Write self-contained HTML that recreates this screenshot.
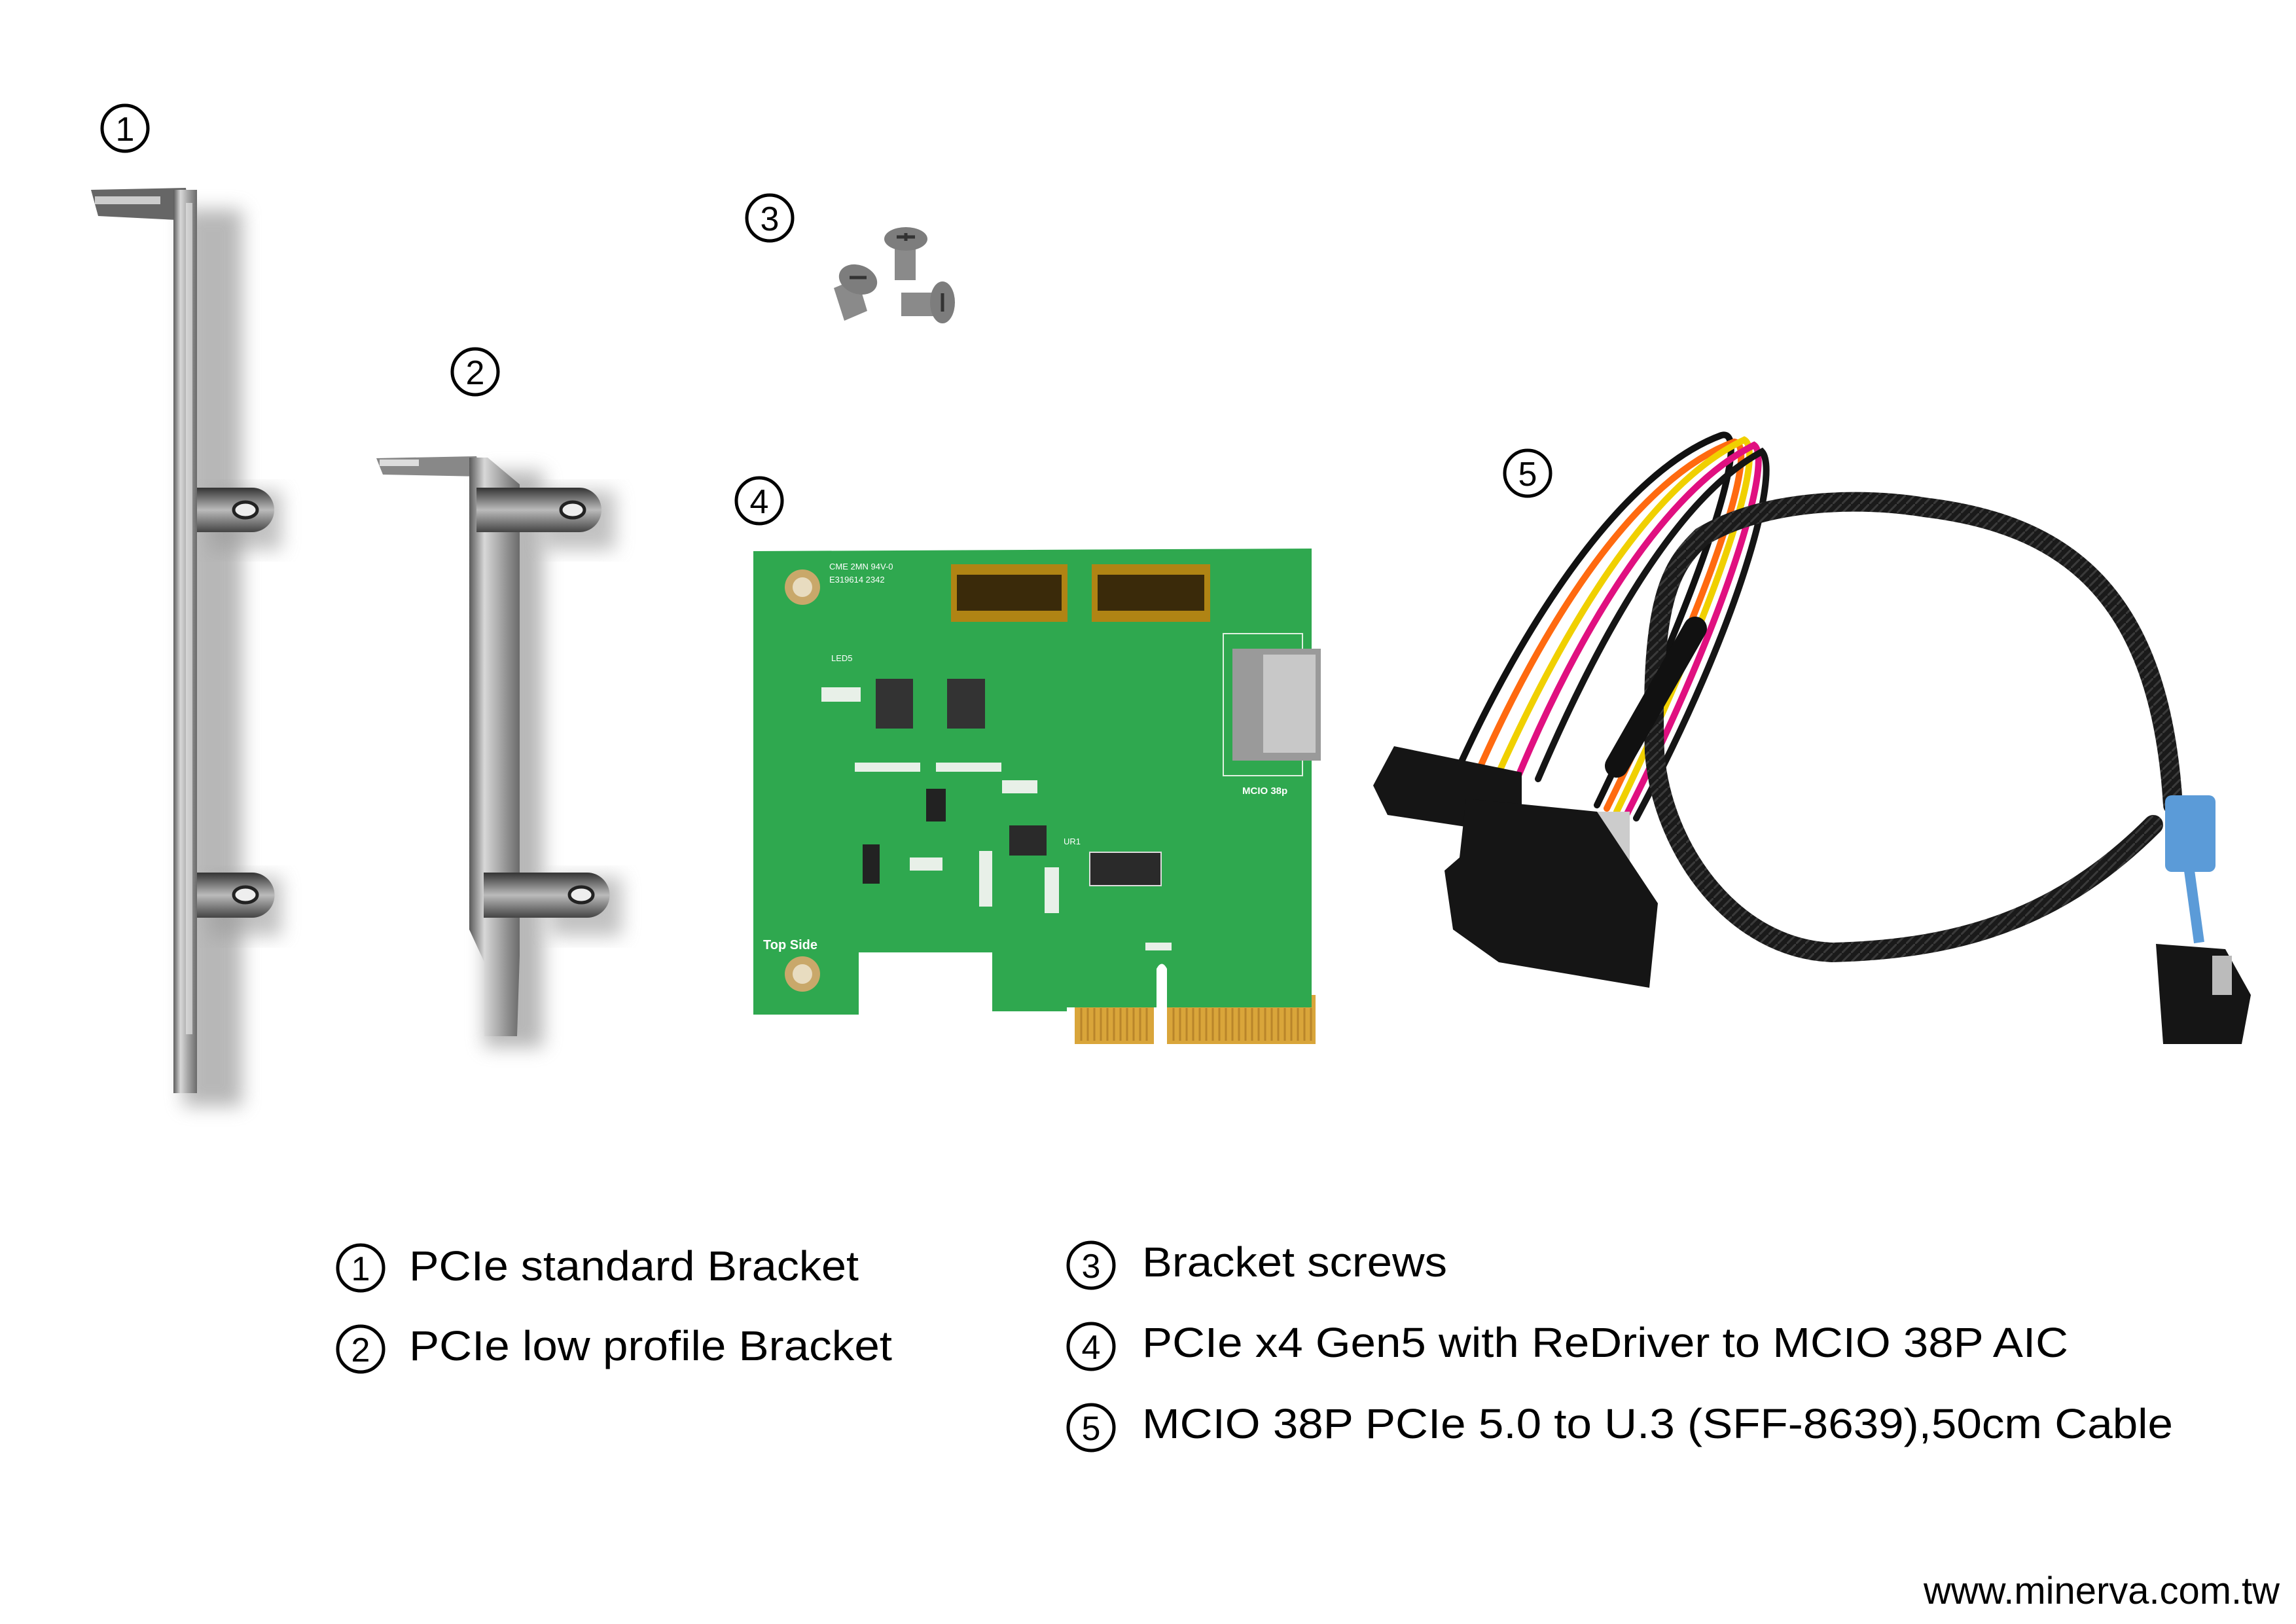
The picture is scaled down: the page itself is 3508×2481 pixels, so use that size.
<!DOCTYPE html>
<html><head><meta charset="utf-8"><style>
html,body{margin:0;padding:0;background:#fff}
svg{display:block}
text{font-family:"Liberation Sans",Arial,sans-serif}
</style></head><body>
<svg width="3508" height="2481" viewBox="0 0 3508 2481" xmlns="http://www.w3.org/2000/svg">
<defs>
<linearGradient id="metal" x1="0" x2="1" y1="0" y2="0">
<stop offset="0" stop-color="#5a5a5a"/><stop offset="0.3" stop-color="#d8d8d8"/><stop offset="0.6" stop-color="#a8a8a8"/><stop offset="1" stop-color="#6a6a6a"/></linearGradient>
<linearGradient id="ear" x1="0" x2="0" y1="0" y2="1">
<stop offset="0" stop-color="#333"/><stop offset="0.5" stop-color="#bbb"/><stop offset="1" stop-color="#444"/></linearGradient>
<filter id="sh" x="-50%" y="-20%" width="200%" height="140%"><feGaussianBlur stdDeviation="14"/></filter>
<pattern id="braid" width="14" height="14" patternUnits="userSpaceOnUse"><rect width="14" height="14" fill="#1a1a1a"/><path d="M0 14L14 0" stroke="#3a3a3a" stroke-width="3"/></pattern>
</defs>
<rect width="3508" height="2481" fill="#fff"/>

<g fill="none" stroke="#000" stroke-width="5">
<circle cx="191" cy="196" r="35"/><circle cx="726" cy="568" r="35"/><circle cx="1176" cy="333" r="35"/><circle cx="1160" cy="765" r="35"/><circle cx="2334" cy="723" r="35"/>
</g>
<g font-size="52" text-anchor="middle">
<text x="191" y="215">1</text><text x="726" y="587">2</text><text x="1176" y="352">3</text><text x="1160" y="784">4</text><text x="2334" y="742">5</text>
</g>

<!-- bracket 1 -->
<g>
<rect x="280" y="320" width="90" height="1370" fill="#888" opacity="0.6" filter="url(#sh)"/>
<rect x="320" y="750" width="110" height="90" fill="#999" opacity="0.6" filter="url(#sh)"/>
<rect x="320" y="1340" width="110" height="90" fill="#999" opacity="0.6" filter="url(#sh)"/>
<path d="M139 290 L284 287 L290 337 L150 330 Z" fill="#666"/>
<rect x="145" y="300" width="100" height="12" fill="#ccc"/>
<rect x="265" y="290" width="36" height="1380" fill="url(#metal)"/>
<rect x="284" y="310" width="10" height="1270" fill="#eee" opacity="0.6"/>
<path d="M301 745 L385 745 A34 34 0 0 1 385 813 L301 813 Z" fill="url(#ear)"/>
<ellipse cx="375" cy="779" rx="18" ry="12" fill="#eee" stroke="#222" stroke-width="5"/>
<path d="M301 1333 L385 1333 A34 34 0 0 1 385 1402 L301 1402 Z" fill="url(#ear)"/>
<ellipse cx="375" cy="1367" rx="18" ry="12" fill="#eee" stroke="#222" stroke-width="5"/>
</g>

<!-- bracket 2 -->
<g>
<rect x="740" y="720" width="90" height="880" fill="#888" opacity="0.6" filter="url(#sh)"/>
<rect x="830" y="750" width="110" height="90" fill="#999" opacity="0.6" filter="url(#sh)"/>
<rect x="840" y="1340" width="110" height="90" fill="#999" opacity="0.6" filter="url(#sh)"/>
<path d="M575 700 L728 697 L735 728 L585 725 Z" fill="#888"/>
<rect x="580" y="702" width="60" height="10" fill="#ddd"/>
<path d="M717 699 L745 699 L794 740 L794 1460 L790 1583 L740 1583 L740 1470 L717 1420 Z" fill="url(#metal)"/>
<path d="M728 745 L885 745 A34 34 0 0 1 885 813 L728 813 Z" fill="url(#ear)"/>
<ellipse cx="875" cy="779" rx="18" ry="12" fill="#eee" stroke="#222" stroke-width="5"/>
<path d="M739 1333 L897 1333 A34 34 0 0 1 897 1402 L739 1402 Z" fill="url(#ear)"/>
<ellipse cx="888" cy="1367" rx="18" ry="12" fill="#eee" stroke="#222" stroke-width="5"/>
</g>

<!-- screws -->
<g>
<rect x="1367" y="380" width="32" height="48" fill="#8a8a8a"/>
<ellipse cx="1384" cy="365" rx="33" ry="18" fill="#7d7d7d"/>
<path d="M1370 362h28M1384 356v12" stroke="#333" stroke-width="5"/>
<path d="M1274 440 L1310 425 L1325 475 L1290 490 Z" fill="#8a8a8a"/>
<ellipse cx="1311" cy="427" rx="30" ry="22" fill="#7d7d7d" transform="rotate(20 1311 427)"/>
<path d="M1298 424h26" stroke="#333" stroke-width="5"/>
<rect x="1377" y="447" width="50" height="36" fill="#8a8a8a"/>
<ellipse cx="1440" cy="462" rx="19" ry="32" fill="#7d7d7d"/>
<path d="M1440 448v28" stroke="#333" stroke-width="5"/>
</g>

<!-- PCB -->
<g>
<rect x="1642" y="1520" width="121" height="75" fill="#d9a53a"/>
<rect x="1783" y="1520" width="227" height="75" fill="#d9a53a"/>
<g stroke="#b9852a" stroke-width="3">
<path d="M1652 1540v50M1662 1540v50M1672 1540v50M1682 1540v50M1692 1540v50M1702 1540v50M1712 1540v50M1722 1540v50M1732 1540v50M1742 1540v50M1752 1540v50"/>
<path d="M1793 1540v50M1803 1540v50M1813 1540v50M1823 1540v50M1833 1540v50M1843 1540v50M1853 1540v50M1863 1540v50M1873 1540v50M1883 1540v50M1893 1540v50M1903 1540v50M1913 1540v50M1923 1540v50M1933 1540v50M1943 1540v50M1953 1540v50M1963 1540v50M1973 1540v50M1983 1540v50M1993 1540v50M2003 1540v50"/>
</g>
<path d="M1151 842 L2004 838 L2004 1539 L1783 1539 L1783 1480 Q1775 1465 1767 1480 L1767 1539 L1642 1539 L1630 1539 L1630 1545 L1516 1545 L1516 1455 L1312 1455 L1312 1550 L1151 1550 Z" fill="#2fa84f"/>
<circle cx="1226" cy="897" r="27" fill="#c9a86a"/><circle cx="1226" cy="897" r="15" fill="#e8dcc0"/>
<circle cx="1226" cy="1488" r="27" fill="#c9a86a"/><circle cx="1226" cy="1488" r="15" fill="#e8dcc0"/>
<rect x="1453" y="862" width="178" height="88" fill="#b08414"/><rect x="1462" y="878" width="160" height="55" fill="#3a2a0a"/>
<rect x="1668" y="862" width="181" height="88" fill="#b08414"/><rect x="1677" y="878" width="163" height="55" fill="#3a2a0a"/>
<rect x="1869" y="968" width="121" height="217" fill="none" stroke="#e0f0e0" stroke-width="2"/>
<rect x="1883" y="991" width="135" height="171" fill="#9a9a9a"/>
<rect x="1930" y="1000" width="80" height="150" fill="#c8c8c8"/>
<rect x="1338" y="1037" width="57" height="76" fill="#333"/>
<rect x="1447" y="1037" width="58" height="76" fill="#333"/>
<rect x="1665" y="1302" width="109" height="51" fill="#2a2a2a" stroke="#ddd" stroke-width="2"/>
<rect x="1542" y="1261" width="57" height="46" fill="#2a2a2a"/>
<rect x="1415" y="1205" width="30" height="50" fill="#222"/>
<rect x="1318" y="1290" width="26" height="60" fill="#222"/>
<g fill="#e8f0e8">
<rect x="1306" y="1165" width="100" height="14"/><rect x="1430" y="1165" width="100" height="14"/>
<rect x="1531" y="1192" width="54" height="20"/><rect x="1496" y="1300" width="20" height="85"/>
<rect x="1596" y="1325" width="22" height="70"/><rect x="1750" y="1440" width="40" height="12"/>
<rect x="1390" y="1310" width="50" height="20"/><rect x="1255" y="1050" width="60" height="22"/>
</g>
<g fill="#fff" font-size="13">
<text x="1267" y="870">CME 2MN 94V-0</text><text x="1267" y="890">E319614 2342</text>
<text x="1625" y="1290">UR1</text><text x="1270" y="1010">LED5</text>
</g>
<text x="1166" y="1450" fill="#fff" font-size="20" font-weight="bold">Top Side</text>
<text x="1898" y="1213" fill="#fff" font-size="15" font-weight="bold">MCIO 38p</text>
</g>

<!-- cable -->
<g fill="none" stroke-linecap="round">
<path d="M2230 1170 C2330 950 2480 720 2630 665 C2680 650 2600 900 2440 1230" stroke="#111" stroke-width="10"/>
<path d="M2260 1175 C2360 950 2500 730 2650 675 C2690 680 2610 920 2455 1235" stroke="#ff6a10" stroke-width="10"/>
<path d="M2290 1180 C2390 960 2520 740 2665 672 C2700 690 2620 930 2470 1240" stroke="#f0d000" stroke-width="10"/>
<path d="M2320 1185 C2410 970 2540 750 2680 680 C2710 700 2640 940 2485 1245" stroke="#e01080" stroke-width="10"/>
<path d="M2350 1190 C2440 980 2560 760 2692 690 C2720 720 2660 950 2500 1250" stroke="#151515" stroke-width="10"/>
<path d="M2528 1150 C2520 900 2560 860 2600 820 C2700 760 2850 760 2940 775 C3150 800 3300 900 3320 1230" stroke="url(#braid)" stroke-width="30"/>
<path d="M2528 1150 C2540 1300 2650 1450 2800 1455 C3000 1450 3150 1400 3290 1260" stroke="url(#braid)" stroke-width="30"/>
<path d="M2470 1170 L2590 960" stroke="#111" stroke-width="36"/>
</g>
<path d="M2430 1240 L2490 1240 L2490 1330 L2440 1330 Z" fill="#ccc"/>
<path d="M2130 1140 L2325 1180 L2325 1276 L2120 1245 L2098 1200 Z" fill="#151515"/>
<path d="M2240 1220 L2440 1240 L2533 1380 L2520 1509 L2290 1470 L2220 1420 L2207 1330 L2230 1310 Z" fill="#151515"/>
<rect x="3308" y="1215" width="77" height="117" rx="10" fill="#5b9bd8"/>
<path d="M3345 1330 L3360 1440" stroke="#5b9bd8" stroke-width="16"/>
<path d="M3294 1442 L3400 1450 L3439 1520 L3425 1595 L3305 1595 Z" fill="#151515"/>
<rect x="3380" y="1460" width="30" height="60" fill="#bbb"/>

<!-- legend -->
<g fill="none" stroke="#000" stroke-width="5">
<circle cx="551" cy="1937" r="35"/><circle cx="551" cy="2061" r="35"/>
<circle cx="1667" cy="1933" r="35"/><circle cx="1667" cy="2057" r="35"/><circle cx="1667" cy="2181" r="35"/>
</g>
<g font-size="52" text-anchor="middle">
<text x="551" y="1956">1</text><text x="551" y="2080">2</text>
<text x="1667" y="1952">3</text><text x="1667" y="2076">4</text><text x="1667" y="2200">5</text>
</g>
<g font-size="64">
<text x="625" y="1956" textLength="687" lengthAdjust="spacingAndGlyphs">PCIe standard Bracket</text>
<text x="625" y="2078" textLength="738" lengthAdjust="spacingAndGlyphs">PCIe low profile Bracket</text>
<text x="1745" y="1950" textLength="466" lengthAdjust="spacingAndGlyphs">Bracket screws</text>
<text x="1745" y="2073" textLength="1415" lengthAdjust="spacingAndGlyphs">PCIe x4 Gen5 with ReDriver to MCIO 38P AIC</text>
<text x="1745" y="2197" textLength="1575" lengthAdjust="spacingAndGlyphs">MCIO 38P PCIe 5.0 to U.3 (SFF-8639),50cm Cable</text>
</g>
<text x="2939" y="2450" font-size="58" textLength="544" lengthAdjust="spacingAndGlyphs">www.minerva.com.tw</text>
</svg>
</body></html>
